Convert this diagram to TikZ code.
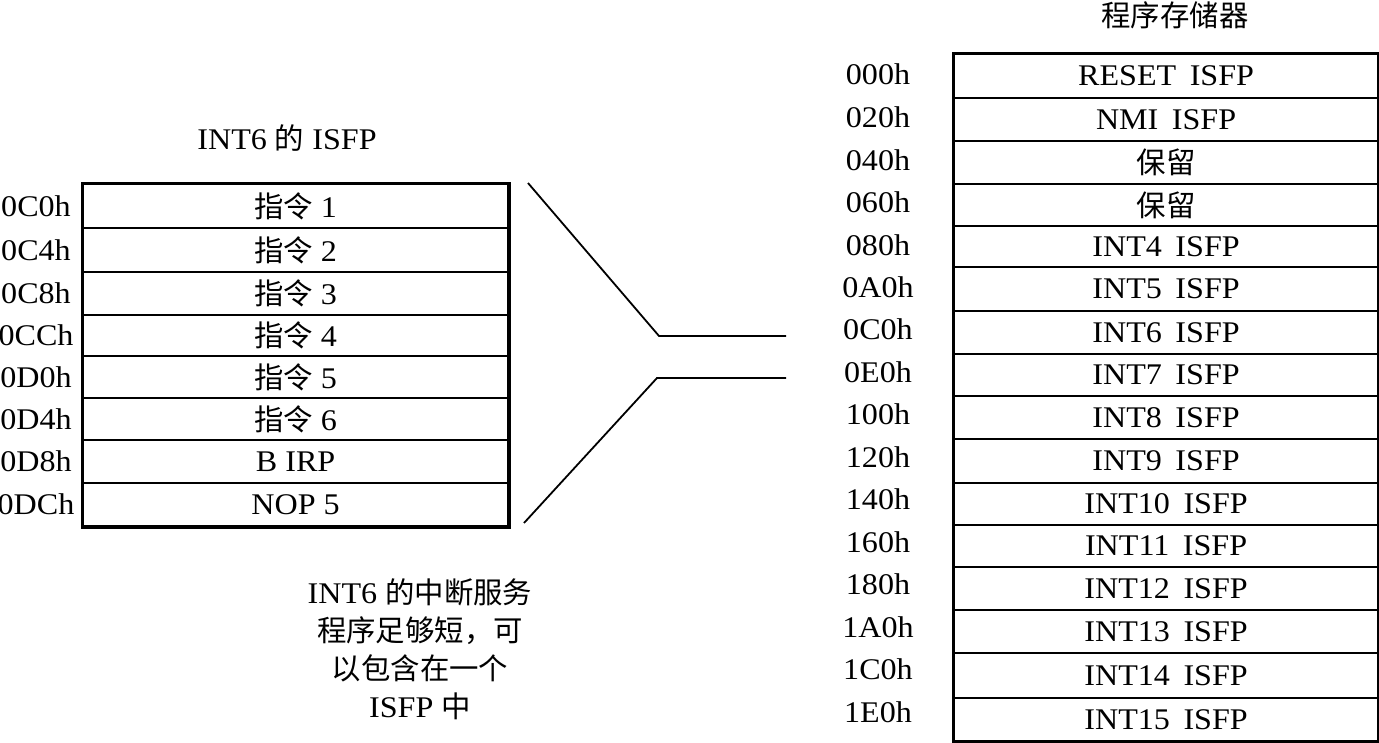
\documentclass[tikz,border=0pt]{standalone}
\usepackage{fontspec}
\setmainfont{Liberation Serif}[FakeStretch=1.07]
\newfontfamily\cjk{Noto Sans CJK SC}[Scale=0.98]
\newcommand{\zh}[1]{{\cjk #1}}
\begin{document}
\begin{tikzpicture}[x=1pt,y=-1pt,
  every node/.style={font=\fontsize{30}{38}\selectfont, inner sep=0pt},
  lcell/.style={draw, line width=2.2pt, minimum width=425pt, anchor=north west},
  rcell/.style={draw, line width=2.2pt, minimum width=424pt, anchor=north west},
  outer/.style={line width=2.8pt},
  addr/.style={anchor=center},
  conn/.style={line width=1.8pt}]
\useasboundingbox (0,0) rectangle (1379,743);

% ---- left table: INT6 ISFP ----
\node (ltitle) at (287,138) {INT6 \zh{的} ISFP};
\node[lcell, minimum height=44pt] (l1) at (82,183) {\zh{指令} 1};
\node[lcell, minimum height=44pt] (l2) at (82,227) {\zh{指令} 2};
\node[lcell, minimum height=43pt] (l3) at (82,271) {\zh{指令} 3};
\node[lcell, minimum height=41pt] (l4) at (82,314) {\zh{指令} 4};
\node[lcell, minimum height=42pt] (l5) at (82,355) {\zh{指令} 5};
\node[lcell, minimum height=42pt] (l6) at (82,397) {\zh{指令} 6};
\node[lcell, minimum height=43pt] (l7) at (82,439) {B IRP};
\node[lcell, minimum height=43pt] (l8) at (82,482) {NOP 5};
\draw[outer] (l1.north west) rectangle (l8.south east);

\node[addr] (la1) at ([xshift=-46pt]l1.west) {0C0h};
\node[addr] (la2) at ([xshift=-46pt]l2.west) {0C4h};
\node[addr] (la3) at ([xshift=-46pt]l3.west) {0C8h};
\node[addr] (la4) at ([xshift=-46pt]l4.west) {0CCh};
\node[addr] (la5) at ([xshift=-46pt]l5.west) {0D0h};
\node[addr] (la6) at ([xshift=-46pt]l6.west) {0D4h};
\node[addr] (la7) at ([xshift=-46pt]l7.west) {0D8h};
\node[addr] (la8) at ([xshift=-46pt]l8.west) {0DCh};

\node[align=center] (note) at (420,649) {INT6 \zh{的中断服务}\\\zh{程序足够短，可}\\\zh{以包含在一个}\\ISFP \zh{中}};

% ---- right table: program memory ----
\node (rtitle) at (1175,15) {\zh{程序存储器}};
\node[rcell, minimum height=44pt] (r1)  at (953,53)  {RESET\hspace{0.45em}ISFP};
\node[rcell, minimum height=43pt] (r2)  at (953,97)  {NMI\hspace{0.45em}ISFP};
\node[rcell, minimum height=43pt] (r3)  at (953,140) {\zh{保留}};
\node[rcell, minimum height=42pt] (r4)  at (953,183) {\zh{保留}};
\node[rcell, minimum height=41pt] (r5)  at (953,225) {INT4\hspace{0.45em}ISFP};
\node[rcell, minimum height=44pt] (r6)  at (953,266) {INT5\hspace{0.45em}ISFP};
\node[rcell, minimum height=43pt] (r7)  at (953,310) {INT6\hspace{0.45em}ISFP};
\node[rcell, minimum height=42pt] (r8)  at (953,353) {INT7\hspace{0.45em}ISFP};
\node[rcell, minimum height=43pt] (r9)  at (953,395) {INT8\hspace{0.45em}ISFP};
\node[rcell, minimum height=44pt] (r10) at (953,438) {INT9\hspace{0.45em}ISFP};
\node[rcell, minimum height=42pt] (r11) at (953,482) {INT10\hspace{0.45em}ISFP};
\node[rcell, minimum height=42pt] (r12) at (953,524) {INT11\hspace{0.45em}ISFP};
\node[rcell, minimum height=43pt] (r13) at (953,566) {INT12\hspace{0.45em}ISFP};
\node[rcell, minimum height=43pt] (r14) at (953,609) {INT13\hspace{0.45em}ISFP};
\node[rcell, minimum height=45pt] (r15) at (953,652) {INT14\hspace{0.45em}ISFP};
\node[rcell, minimum height=43pt] (r16) at (953,697) {INT15\hspace{0.45em}ISFP};
\draw[outer] (r1.north west) rectangle (r16.south east);

\node[addr] (ra1)  at (878,74)  {000h};
\node[addr] (ra2)  at (878,117) {020h};
\node[addr] (ra3)  at (878,160) {040h};
\node[addr] (ra4)  at (878,202) {060h};
\node[addr] (ra5)  at (878,245) {080h};
\node[addr] (ra6)  at (878,287) {0A0h};
\node[addr] (ra7)  at (878,329) {0C0h};
\node[addr] (ra8)  at (878,372) {0E0h};
\node[addr] (ra9)  at (878,414) {100h};
\node[addr] (ra10) at (878,457) {120h};
\node[addr] (ra11) at (878,499) {140h};
\node[addr] (ra12) at (878,542) {160h};
\node[addr] (ra13) at (878,584) {180h};
\node[addr] (ra14) at (878,627) {1A0h};
\node[addr] (ra15) at (878,669) {1C0h};
\node[addr] (ra16) at (878,712) {1E0h};

% ---- connector (zoom lines) ----
\coordinate (u1) at (528,183);
\coordinate (u2) at (659,336);
\coordinate (u3) at (786,336);
\coordinate (d1) at (524,523);
\coordinate (d2) at (657,378);
\coordinate (d3) at (786,378);
\draw[conn] (u1) -- (u2) -- (u3);
\draw[conn] (d1) -- (d2) -- (d3);
\end{tikzpicture}
\end{document}
